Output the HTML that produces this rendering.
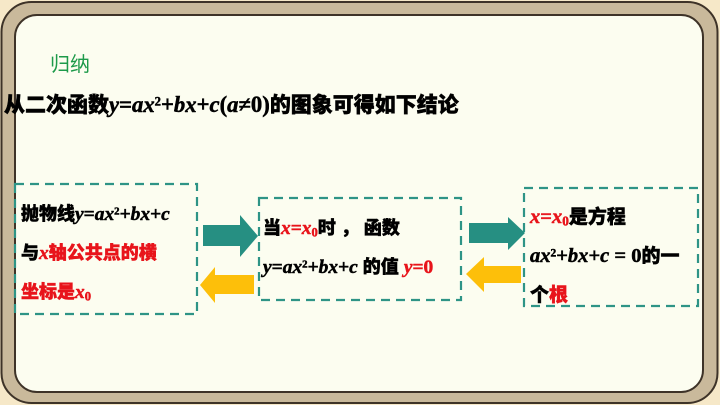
<!DOCTYPE html>
<html><head><meta charset="utf-8"><style>
body{margin:0;width:720px;height:405px;overflow:hidden;background:#f6e8c8;font-family:"Liberation Sans","Noto Sans CJK SC",sans-serif}
.t{position:absolute;font-weight:900;color:#000;white-space:nowrap;-webkit-text-stroke:0.5px currentColor}
i{font-family:"Liberation Serif",serif;font-style:italic;font-size:1.08em}
.n{font-family:"Liberation Serif",serif;font-size:1.08em}
.r{color:#e8141b}
sup.s{font-family:"Liberation Serif",serif;font-size:0.6em;vertical-align:0.5em;line-height:0}
sub.s{font-family:"Liberation Serif",serif;font-size:0.7em;vertical-align:-0.2em;line-height:0}
</style></head><body>
<svg width="720" height="405" style="position:absolute;left:0;top:0">
<rect x="1.5" y="2" width="716" height="401" rx="30" fill="#c9b99b" stroke="#3e3328" stroke-width="2"/>
<rect x="15" y="15" width="688" height="377" rx="22" fill="#fcfdf0" stroke="#3e3328" stroke-width="2"/>
<g fill="none" stroke="#2e9486" stroke-width="2.2" stroke-dasharray="9,6">
<rect x="15" y="184" width="182" height="130"/>
<rect x="259" y="198" width="202" height="102"/>
<rect x="524" y="188" width="174" height="118"/>
</g>
<polygon points="203,225 240,225 240,215 258,236 240,257 240,246 203,246" fill="#268f82"/>
<polygon points="254,275 215,275 215,267 200,285 215,303 215,294 254,294" fill="#fdbf0a"/>
<polygon points="469,223 508,223 508,217 525,233 508,250 508,243 469,243" fill="#268f82"/>
<polygon points="521,266 484,266 484,257 466,274 484,292 484,283 521,283" fill="#fdbf0a"/>
</svg>
<div class="t" style="left:50px;top:48px;font-size:20px;color:#1d9a4a;font-weight:normal;-webkit-text-stroke:0">归纳</div>
<div class="t" style="left:4px;top:89px;font-size:21px">从二次函数<i>y</i><span class="n">=</span><i>ax</i><sup class="s">2</sup><span class="n">+</span><i>bx</i><span class="n">+</span><i>c</i><span class="n">(</span><i>a</i><span class="n">≠0)</span>的图象可得如下结论</div>
<div class="t" style="left:21px;top:195px;font-size:18px;line-height:38px">抛物线<i>y</i><span class="n">=</span><i>ax</i><sup class="s">2</sup><span class="n">+</span><i>bx</i><span class="n">+</span><i>c</i><br>与<span class="r"><i>x</i>轴公共点的横</span><br><span class="r">坐标是</span><i class="r">x</i><sub class="r s">0</sub></div>
<div class="t" style="left:263px;top:209px;font-size:18px;line-height:38px">当<i class="r">x</i><span class="r n">=</span><i class="r">x</i><sub class="r s">0</sub>时 ， 函数<br><i>y</i><span class="n">=</span><i>ax</i><sup class="s">2</sup><span class="n">+</span><i>bx</i><span class="n">+</span><i>c</i> 的值 <span class="r"><i>y</i><span class="n">=0</span></span></div>
<div class="t" style="left:530px;top:198px;font-size:19px;line-height:39px"><i class="r">x</i><span class="r n">=</span><i class="r">x</i><sub class="r s">0</sub>是方程<br><i>ax</i><sup class="s">2</sup><span class="n">+</span><i>bx</i><span class="n">+</span><i>c</i><span class="n"> = 0</span>的一<br>个<span class="r">根</span></div>
</body></html>
